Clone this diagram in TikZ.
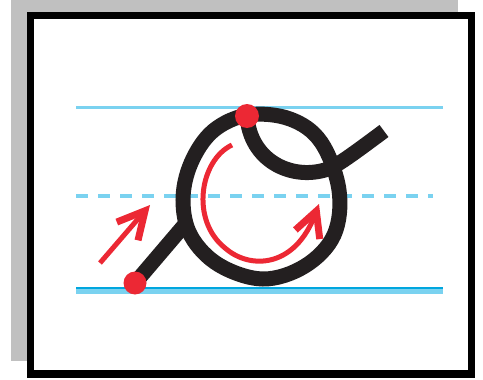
\documentclass[tikz,border=0pt]{standalone}
\usetikzlibrary{arrows.meta}
\definecolor{pagegray}{RGB}{192,192,192}
\definecolor{lineblue}{RGB}{122,210,240}
\definecolor{darkblue}{RGB}{0,166,222}
\definecolor{inkred}{RGB}{236,40,52}
\definecolor{inkblack}{RGB}{35,31,32}
\begin{document}
\begin{tikzpicture}[x=1pt,y=-1pt,
  letter/.style={draw=inkblack, line width=15pt},
  guide/.style={lineblue, line width=3.5pt},
  redarrow/.style={inkred, line width=5pt, -{Straight Barb[length=27pt,width=28pt,line width=7pt]}},
  startdot/.style={fill=inkred}]
\useasboundingbox (0,0) rectangle (483,380);
\fill[pagegray] (11,0) rectangle (458,361);
\draw[fill=white, line width=7.5pt] (30.5,15.5) rectangle (471.5,374);
% guide lines
\draw[guide, line width=3pt] (76,107) -- (443,107);
\draw[guide, line width=4pt, dash pattern=on 12pt off 10pt] (76,196) -- (433,196);
\draw[guide, line width=4.4pt] (76,291.5) -- (443,291.5);
\draw[darkblue, line width=2.6pt] (76,288) -- (443,288);
% letter
\coordinate (leadstart) at (135,283);
\coordinate (leadend) at (187,222);
\coordinate (topstart) at (247,116);
\coordinate (exitend) at (384,131);
\draw[letter] plot[smooth cycle, tension=0.6] coordinates {(248,115) (290,119) (321,142) (339,190) (334,235) (305,266) (263,279) (219,265) (191,236) (183,200) (191,163) (213,131)};
\draw[letter] (leadstart) -- (leadend);
\draw[letter] (topstart) .. controls (250,160) and (290,180) .. (325,170) .. controls (335,167) and (345,160) .. (exitend);
% red arrows
\coordinate (a1s) at (100,263);
\coordinate (a1e) at (150,205);
\draw[redarrow] (a1s) -- (a1e);
\coordinate (a2s) at (232,145);
\coordinate (a2e) at (319,204);
\draw[redarrow, -{Straight Barb[length=25pt,width=26pt,line width=7pt]}] (a2s) .. controls (200,160) and (190,220) .. (225,248) .. controls (250,270) and (295,268) .. (a2e);
% start dots
\fill[startdot] (leadstart) circle (11.5);
\fill[startdot] (topstart) circle (12);
\end{tikzpicture}
\end{document}
